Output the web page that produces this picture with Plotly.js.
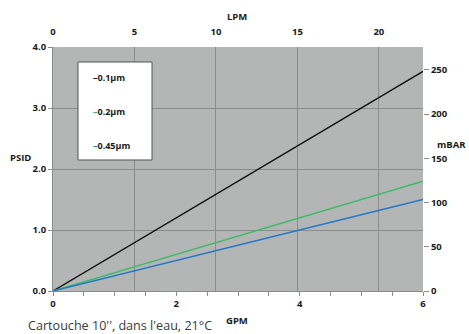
<!DOCTYPE html>
<html>
<head>
<meta charset="utf-8">
<script src="https://cdn.plot.ly/plotly-3.0.1.min.js"></script>
<style>html,body{margin:0;padding:0;background:#fff;}#chart{width:469px;height:334px;}</style>
</head>
<body>
<div id="chart"></div>
<script>
// Data
const gpm = [0, 1, 2, 3, 4, 5, 6];
const psid_01 = [0, 0.6, 1.2, 1.8, 2.4, 3.0, 3.6];
const psid_02 = [0, 0.3, 0.6, 0.9, 1.2, 1.5, 1.8];
const psid_045 = [0, 0.25, 0.5, 0.75, 1.0, 1.25, 1.5];
const seriesNames = ['0.1µm', '0.2µm', '0.45µm'];
const seriesColors = ['#111111', '#3dba6a', '#1f78c8'];
const gpmTicks = [0, 2, 4, 6];
const lpmTicks = [0, 5, 10, 15, 20];
const psidTicks = [0, 1, 2, 3, 4];
const mbarTicks = [0, 50, 100, 150, 200, 250];
const GPM_TO_LPM = 3.785;
const PSI_TO_MBAR = 68.95;
const caption = "Cartouche 10'', dans l'eau, 21°C";

const FONT = 'Open Sans, DejaVu Sans, sans-serif';
const tickFont = {family: FONT, size: 9.5, color: '#1a1a1a', weight: 'bold'};
const gridCol = '#8b8d8d';
const tickCol = '#8c8c8c';

const ys = [psid_01, psid_02, psid_045];
const traces = ys.map((y, i) => ({
  type: 'scatter', mode: 'lines', x: gpm, y: y, name: seriesNames[i],
  line: {color: seriesColors[i], width: 1.4}, xaxis: 'x', yaxis: 'y', showlegend: false
}));
// empty trace to activate the secondary axes (LPM / mBAR)
traces.push({type: 'scatter', mode: 'lines', x: [], y: [], xaxis: 'x2', yaxis: 'y2', showlegend: false, hoverinfo: 'skip'});

const xmax = gpm[gpm.length - 1];
const ymax = psidTicks[psidTicks.length - 1];

// legend in a white box
const legY = [0.873, 0.734, 0.598];
const annotations = seriesNames.map((n, i) => ({
  xref: 'paper', yref: 'paper', x: 0.104, y: legY[i], xanchor: 'left', yanchor: 'middle',
  text: '<span style="color:' + seriesColors[i] + '">–</span>' + n, showarrow: false,
  font: {family: FONT, size: 9, color: '#1a1a1a', weight: 'bold'}
}));
const titleFont = {family: FONT, size: 9.5, color: '#1a1a1a', weight: 'bold'};
annotations.push(
  {xref: 'paper', yref: 'paper', x: 0.497, y: 1.127, text: 'LPM', showarrow: false, font: titleFont, xanchor: 'center', yanchor: 'middle'},
  {xref: 'paper', yref: 'paper', x: -0.089, y: 0.549, text: 'PSID', showarrow: false, font: titleFont, xanchor: 'center', yanchor: 'middle'},
  {xref: 'paper', yref: 'paper', x: 1.078, y: 0.600, text: 'mBAR', showarrow: false, font: titleFont, xanchor: 'center', yanchor: 'middle'},
  {xref: 'paper', yref: 'paper', x: 0.497, y: -0.119, text: 'GPM', showarrow: false, font: titleFont, xanchor: 'center', yanchor: 'middle'},
  {xref: 'paper', yref: 'paper', x: -0.0730, y: -0.140, text: caption, showarrow: false,
   font: {family: FONT, size: 12.6, color: '#3a3a3a'}, xanchor: 'left', yanchor: 'middle'}
);

const layout = {
  width: 469, height: 334,
  paper_bgcolor: '#ffffff', plot_bgcolor: '#b4b6b6',
  margin: {l: 53, r: 46, t: 47, b: 43, pad: 0},
  showlegend: false,
  xaxis: {
    range: [0, xmax], tickvals: gpmTicks, ticktext: gpmTicks.map(String),
    ticks: 'outside', ticklen: 4, tickcolor: tickCol, tickwidth: 1,
    minor: {dtick: 0.5, tick0: 0, ticks: 'outside', ticklen: 4, tickcolor: tickCol, showgrid: false},
    showgrid: false, zeroline: false, showline: true, linecolor: tickCol, linewidth: 1,
    tickfont: tickFont, fixedrange: true
  },
  xaxis2: {
    overlaying: 'x', side: 'top', anchor: 'y',
    range: [0, xmax * GPM_TO_LPM], tickvals: lpmTicks, ticktext: lpmTicks.map(String),
    ticks: 'outside', ticklen: 7, tickcolor: 'rgba(0,0,0,0)',
    showgrid: true, gridcolor: gridCol, gridwidth: 1, zeroline: false, showline: false,
    tickfont: tickFont
  },
  yaxis: {
    range: [0, ymax], tickvals: psidTicks, ticktext: psidTicks.map(v => v.toFixed(1)),
    ticks: 'outside', ticklen: 4, tickcolor: tickCol,
    showgrid: true, gridcolor: gridCol, gridwidth: 1, zeroline: false,
    showline: true, linecolor: tickCol, linewidth: 1, tickfont: tickFont
  },
  yaxis2: {
    overlaying: 'y', side: 'right', anchor: 'x2',
    range: [0, ymax * PSI_TO_MBAR], tickvals: mbarTicks, ticktext: mbarTicks.map(String),
    ticks: 'outside', ticklen: 5, tickcolor: tickCol,
    showgrid: false, zeroline: false, showline: false, tickfont: tickFont
  },
  shapes: [{
    type: 'rect', xref: 'paper', yref: 'paper', x0: 0.0676, x1: 0.2676, y0: 0.537, y1: 0.9385,
    fillcolor: '#ffffff', line: {color: '#555555', width: 1}, layer: 'above'
  }],
  annotations: annotations
};

Plotly.newPlot('chart', traces, layout, {staticPlot: true, displayModeBar: false});
</script>
</body>
</html>
